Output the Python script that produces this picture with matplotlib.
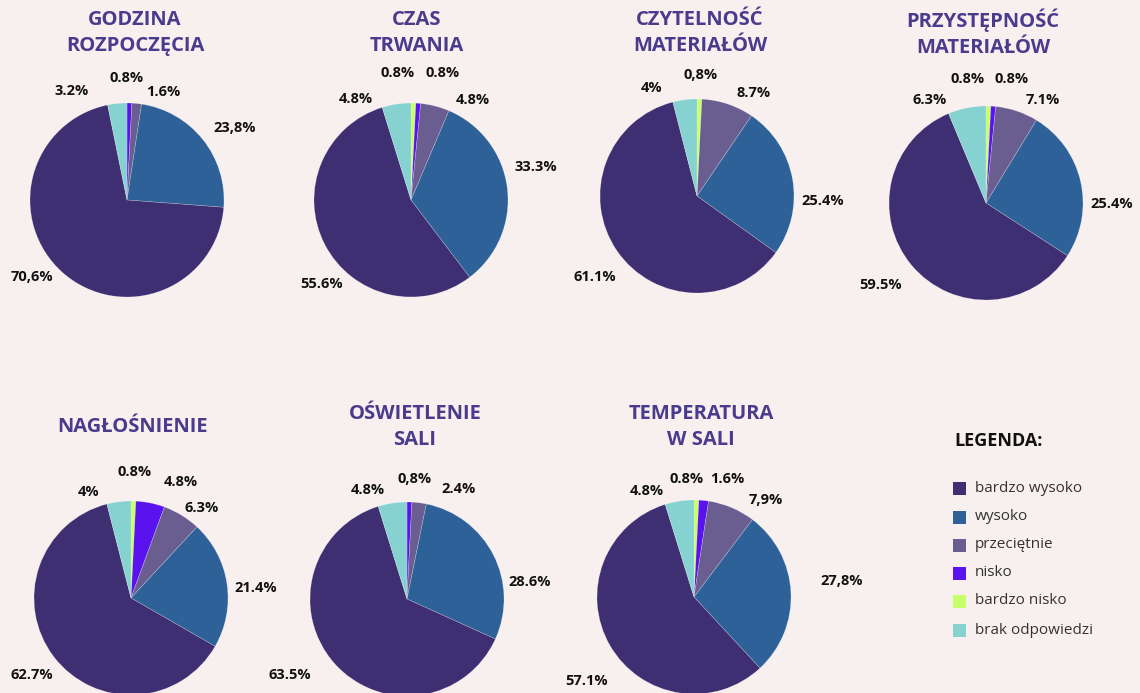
import matplotlib
matplotlib.use("Agg")
import matplotlib.pyplot as plt
from matplotlib.patches import Rectangle

# ---------------- data ----------------
categories = ["bardzo wysoko", "wysoko", "przeciętnie", "nisko", "bardzo nisko", "brak odpowiedzi"]

titles = ["GODZINA\nROZPOCZĘCIA", "CZAS\nTRWANIA", "CZYTELNOŚĆ\nMATERIAŁÓW",
          "PRZYSTĘPNOŚĆ\nMATERIAŁÓW", "NAGŁOŚNIENIE", "OŚWIETLENIE\nSALI", "TEMPERATURA\nW SALI"]

godzina = [70.6, 23.8, 1.6, 0.8, 0.0, 3.2]
czas = [55.6, 33.3, 4.8, 0.8, 0.8, 4.8]
czytelnosc = [61.1, 25.4, 8.7, 0.0, 0.8, 4.0]
przystepnosc = [59.5, 25.4, 7.1, 0.8, 0.8, 6.3]
naglosnienie = [62.7, 21.4, 6.3, 4.8, 0.8, 4.0]
oswietlenie = [63.5, 28.6, 2.4, 0.8, 0.0, 4.8]
temperatura = [57.1, 27.8, 7.9, 1.6, 0.8, 4.8]

godzina_lbl = ["70,6%", "23,8%", "1.6%", "0.8%", "", "3.2%"]
czas_lbl = ["55.6%", "33.3%", "4.8%", "0.8%", "0.8%", "4.8%"]
czytelnosc_lbl = ["61.1%", "25.4%", "8.7%", "", "0,8%", "4%"]
przystepnosc_lbl = ["59.5%", "25.4%", "7.1%", "0.8%", "0.8%", "6.3%"]
naglosnienie_lbl = ["62.7%", "21.4%", "6.3%", "4.8%", "0.8%", "4%"]
oswietlenie_lbl = ["63.5%", "28.6%", "2.4%", "0,8%", "", "4.8%"]
temperatura_lbl = ["57.1%", "27,8%", "7,9%", "1.6%", "0.8%", "4.8%"]

series = [godzina, czas, czytelnosc, przystepnosc, naglosnienie, oswietlenie, temperatura]
labels = [godzina_lbl, czas_lbl, czytelnosc_lbl, przystepnosc_lbl,
          naglosnienie_lbl, oswietlenie_lbl, temperatura_lbl]

# ---------------- style / layout ----------------
colors = ["#3e2e72", "#2e6198", "#6a5e91", "#5a12ee", "#c8ff6a", "#86d2d1"]
BG = "#f7f0ef"
TITLE_C = "#4a3b8c"
W, H = 1140, 693
R = 97

# plotting order: clockwise from 12 o'clock
plot_order = [4, 3, 2, 1, 0, 5]

centers = [(127, 200), (411, 200), (697, 196), (986, 203), (131, 598), (407, 599), (694, 597)]
title_pos = [(135, 33), (417, 33), (700, 33), (983, 33), (133, 427), (415, 427), (701, 427)]
# label positions (pixels) in legend order
label_pos = [
    [(32, 277), (235, 128), (163, 92), (127, 78), None, (72, 91)],
    [(322, 284), (536, 167), (473, 100), (443, 73), (398, 73), (356, 99)],
    [(595, 277), (823, 201), (754, 93), None, (701, 75), (652, 88)],
    [(881, 285), (1112, 204), (1043, 100), (1012, 79), (968, 79), (930, 100)],
    [(32, 675), (256, 588), (202, 508), (181, 482), (135, 472), (89, 492)],
    [(290, 675), (530, 582), (459, 489), (415, 479), None, (368, 490)],
    [(587, 681), (842, 581), (766, 500), (727, 479), (687, 479), (647, 491)],
]

FONT = "Open Sans"
fig = plt.figure(figsize=(W / 100, H / 100), dpi=100)
fig.patch.set_facecolor(BG)


def fx(px):
    return px / W


def fy(py):
    return 1 - py / H


for i, vals in enumerate(series):
    cx, cy = centers[i]
    ax = fig.add_axes([fx(cx - R), fy(cy + R), 2 * R / W, 2 * R / H])
    ax.set_facecolor("none")
    v = [vals[k] for k in plot_order]
    c = [colors[k] for k in plot_order]
    ax.pie(v, colors=c, startangle=90, counterclock=False, radius=1,
           wedgeprops=dict(edgecolor=(1, 1, 1, 0.35), linewidth=0.4))
    ax.set_xlim(-1, 1)
    ax.set_ylim(-1, 1)
    ax.set_aspect("equal")
    ax.axis("off")
    tx, ty = title_pos[i]
    fig.text(fx(tx), fy(ty), titles[i], ha="center", va="center", multialignment="center",
             fontsize=14.5, fontweight="bold", color=TITLE_C, family=FONT, linespacing=1.4)
    for k, lab in enumerate(labels[i]):
        pos = label_pos[i][k]
        if lab and pos is not None:
            fig.text(fx(pos[0]), fy(pos[1]), lab, ha="center", va="center",
                     fontsize=10.5, fontweight="bold", color="#111111", family=FONT)

# legend
fig.text(fx(954), fy(441), "LEGENDA:", ha="left", va="center", fontsize=13,
         fontweight="bold", color="#111111", family=FONT)
row_y = [488, 517, 545, 573, 601, 630]
for k, name in enumerate(categories):
    y = row_y[k]
    fig.patches.append(Rectangle((fx(953), fy(y + 7)), 13 / W, 13 / H, transform=fig.transFigure,
                                 facecolor=colors[k], edgecolor="none"))
    fig.text(fx(975), fy(y), name, ha="left", va="center", fontsize=11,
             color="#333333", family=FONT)

fig.savefig("out.png", dpi=100, facecolor=BG)
